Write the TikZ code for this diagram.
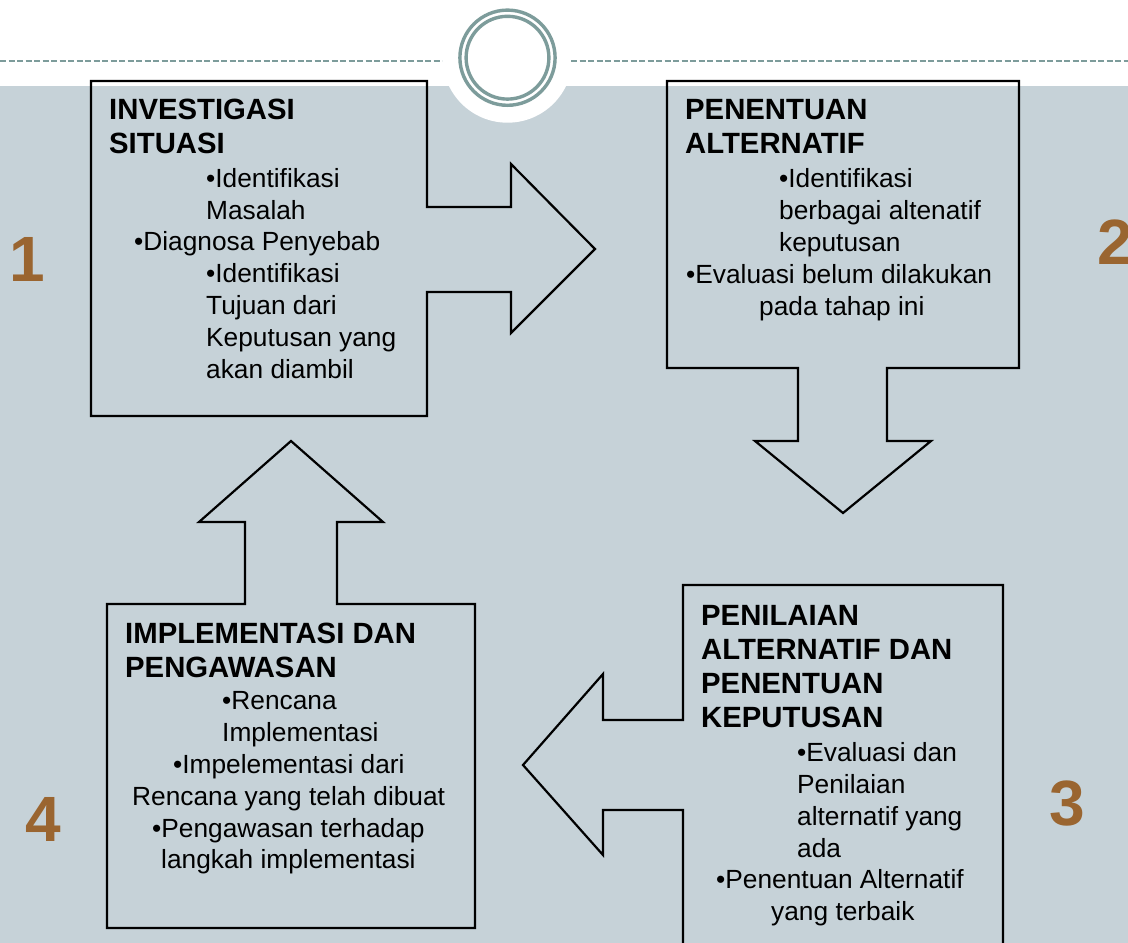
\documentclass[tikz,border=0pt]{standalone}
\usepackage{fontspec}
\setmainfont{Liberation Sans}
\definecolor{BackClr}{RGB}{198,210,216}
\definecolor{RingClr}{RGB}{125,156,155}
\definecolor{NumClr}{RGB}{154,101,48}
\tikzset{
  stepline/.style={line width=2.2pt,color=black,line join=miter},
  headtxt/.style={font=\fontsize{29.3}{34}\selectfont\bfseries,align=left,anchor=base west,inner sep=0pt},
  bodytxt/.style={font=\fontsize{26.3}{32}\selectfont,align=left,anchor=base west,inner sep=0pt},
  numtxt/.style={font=\fontsize{64}{64}\selectfont\bfseries,color=NumClr,anchor=base,inner sep=0pt}
}

\begin{document}
\begin{tikzpicture}[x=1pt,y=-1pt]
\useasboundingbox (0,0) rectangle (1128,943);

% background and the ring on top
\fill[white] (0,0) rectangle (1128,943);
\fill[BackClr] (0,86) rectangle (1128,943);
\coordinate (O) at (507.5,57.7);
\fill[white] (O) circle[radius=65pt];
\draw[RingClr,line width=1.3pt,dash pattern=on 6pt off 2.5pt] (0,61) -- (442,61);
\draw[RingClr,line width=1.3pt,dash pattern=on 6pt off 2.5pt] (571,61) -- (1128,61);
\draw[RingClr,line width=3.4pt] (O) circle[radius=47.6pt];
\draw[RingClr,line width=3.4pt] (O) circle[radius=41.4pt];

% box 1 with arrow to the right
\coordinate (A) at (91,81);  \coordinate (B) at (427,81);
\coordinate (C) at (427,416); \coordinate (D) at (91,416);
\draw[stepline] (A) -- (B) -- (427,207) -- (511,207) -- (511,164) -- (595,249)
  -- (511,333) -- (511,292) -- (427,292) -- (C) -- (D) -- cycle;

% box 2 with arrow down
\coordinate (E) at (667,81);  \coordinate (F) at (1019,81);
\coordinate (G) at (1019,368); \coordinate (H) at (667,368);
\draw[stepline] (E) -- (F) -- (G) -- (887,368) -- (887,441) -- (931,441) -- (843,513)
  -- (755,441) -- (798,441) -- (798,368) -- (H) -- cycle;

% box 3 with arrow to the left
\coordinate (K) at (683,585); \coordinate (L) at (1003,585);
\coordinate (M) at (1003,960); \coordinate (N) at (683,960);
\draw[stepline] (K) -- (L) -- (M) -- (N) -- (683,810) -- (603,810) -- (603,855)
  -- (523,765) -- (603,674) -- (603,720) -- (683,720) -- cycle;

% box 4 with arrow up
\coordinate (P) at (107,604); \coordinate (Q) at (475,604);
\coordinate (R) at (475,928); \coordinate (S) at (107,928);
\draw[stepline] (P) -- (245,604) -- (245,522) -- (199,522) -- (291,441) -- (383,522)
  -- (337,522) -- (337,604) -- (Q) -- (R) -- (S) -- cycle;

% texts (a node sits on the baseline of its last line)
\node[headtxt] (head1) at (109,153) {INVESTIGASI\\SITUASI};
\node[bodytxt] (body1a) at (206,219) {•Identifikasi\\Masalah};
\node[bodytxt] (body1b) at (134,250) {•Diagnosa Penyebab};
\node[bodytxt] (body1c) at (206,378) {•Identifikasi\\Tujuan dari\\Keputusan yang\\akan diambil};

\node[headtxt] (head2) at (685,153) {PENENTUAN\\ALTERNATIF};
\node[bodytxt] (body2a) at (779,251) {•Identifikasi\\berbagai altenatif\\keputusan};
\node[bodytxt] (body2b) at (686,283) {•Evaluasi belum dilakukan};
\node[bodytxt] (body2c) at (759,315) {pada tahap ini};

\node[headtxt] (head3) at (701,727) {PENILAIAN\\ALTERNATIF DAN\\PENENTUAN\\KEPUTUSAN};
\node[bodytxt] (body3a) at (797,857) {•Evaluasi dan\\Penilaian\\alternatif yang\\ada};
\node[bodytxt] (body3b) at (716,888) {•Penentuan Alternatif};
\node[bodytxt] (body3c) at (771,920) {yang terbaik};

\node[headtxt] (head4) at (125,677) {IMPLEMENTASI DAN\\PENGAWASAN};
\node[bodytxt] (body4a) at (222,741) {•Rencana\\Implementasi};
\node[bodytxt] (body4b) at (173,773) {•Impelementasi dari};
\node[bodytxt] (body4c) at (132,805) {Rencana yang telah dibuat};
\node[bodytxt] (body4d) at (152,837) {•Pengawasan terhadap};
\node[bodytxt] (body4e) at (161,868) {langkah implementasi};

\node[numtxt] (n1) at (27,281) {1};
\node[numtxt] (n2) at (1115,264) {2};
\node[numtxt] (n3) at (1067,825) {3};
\node[numtxt] (n4) at (43,841) {4};
\end{tikzpicture}
\end{document}
